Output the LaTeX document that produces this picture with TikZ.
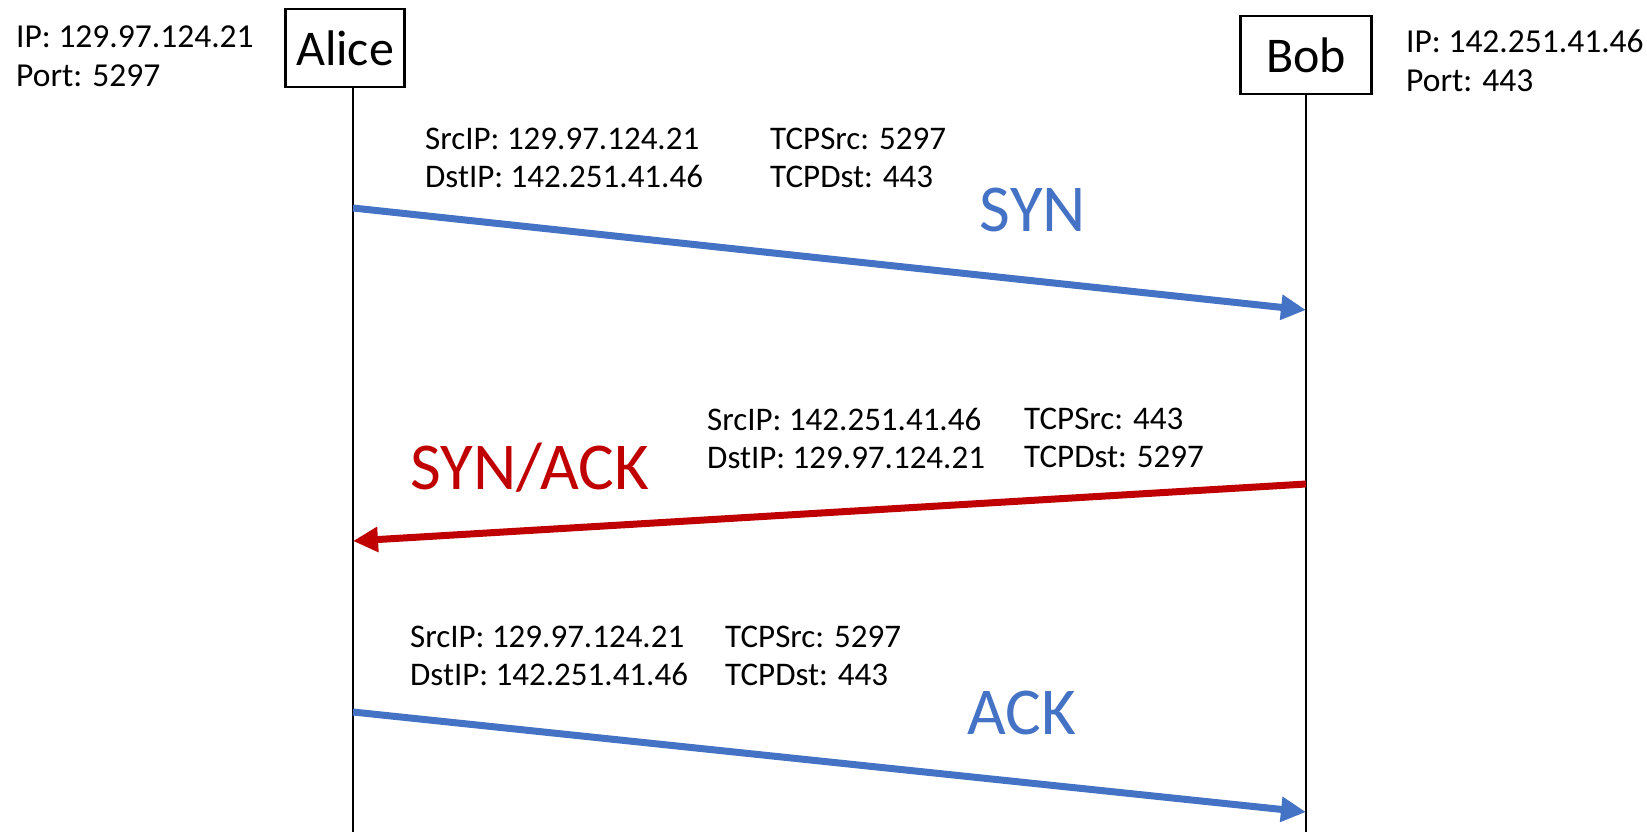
\documentclass[tikz,border=0pt]{standalone}
\usepackage{fontspec}
\setmainfont{Carlito}
\usetikzlibrary{arrows.meta}
\definecolor{msgblue}{RGB}{68,114,196}
\definecolor{msgred}{RGB}{192,0,0}
\begin{document}
\begin{tikzpicture}[x=1pt,y=-1pt,
  actor/.style={draw,line width=2.8pt,minimum height=78pt,inner sep=0pt,font=\fontsize{50}{60}\selectfont},
  life/.style={line width=2.8pt},
  info/.style={align=left,anchor=west,inner sep=0pt,font=\fontsize{33}{38}\selectfont},
  host/.style={align=left,anchor=west,inner sep=0pt,font=\fontsize{33.5}{39}\selectfont},
  msg/.style={line width=7pt,-{Triangle[length=25pt,width=24pt]}},
  lbl/.style={inner sep=0pt,font=\fontsize{67}{72}\selectfont}]
\useasboundingbox (0,0) rectangle (1647,835);
% actors
\node[actor,minimum width=119pt] (alice) at (345,48) {Alice};
\node[actor,minimum width=131pt] (bob) at (1306,55) {Bob};
\coordinate (atop) at (353,87);
\coordinate (aend) at (353,832);
\coordinate (bend) at (1306,832);
\draw[life] (atop) -- (aend);
\draw[life] (bob.south) -- (bend);
% host info
\node[host] (aip) at (16,56) {IP: 129.97.124.21\\Port: 5297};
\node[host] (bip) at (1406,61) {IP: 142.251.41.46\\Port: 443};
% SYN
\coordinate (a1) at (353,208);
\coordinate (b1) at (1306,310);
\draw[msg,msgblue] (a1) -- (b1);
\node[info] (i1a) at (425,158) {SrcIP: 129.97.124.21\\DstIP: 142.251.41.46};
\node[info] (i1b) at (770,158) {TCPSrc: 5297\\TCPDst: 443};
\node[lbl,text=msgblue] (syn) at (1033,210) {SYN};
% SYN/ACK
\coordinate (b2) at (1306,484);
\coordinate (a2) at (353,541);
\draw[msg,msgred] (b2) -- (a2);
\node[info] (i2a) at (707,438) {SrcIP: 142.251.41.46\\DstIP: 129.97.124.21};
\node[info] (i2b) at (1024,438) {TCPSrc: 443\\TCPDst: 5297};
\node[lbl,text=msgred] (synack) at (530,468) {SYN/ACK};
% ACK
\coordinate (a3) at (353,712);
\coordinate (b3) at (1306,812);
\draw[msg,msgblue] (a3) -- (b3);
\node[info] (i3a) at (410,656) {SrcIP: 129.97.124.21\\DstIP: 142.251.41.46};
\node[info] (i3b) at (725,656) {TCPSrc: 5297\\TCPDst: 443};
\node[lbl,text=msgblue] (ack) at (1022,713) {ACK};
\end{tikzpicture}
\end{document}
